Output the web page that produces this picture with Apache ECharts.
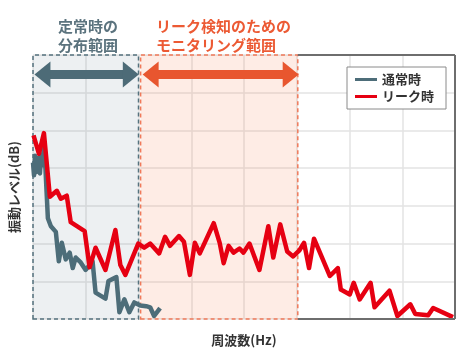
<!DOCTYPE html>
<html>
<head>
<meta charset="utf-8">
<script src="https://cdn.jsdelivr.net/npm/echarts@6/dist/echarts.min.js"></script>
<style>
  html, body { margin: 0; padding: 0; background: #fff; }
  #chart { width: 473px; height: 352px; }
</style>
</head>
<body>
<div id="chart"></div>
<script>
// frequency (arbitrary units 0-800) / level (0-70)
const normalFreq = [0, 1.9, 3.8, 5.6, 7.5, 9.4, 11.3, 13.2, 15.1, 16.9, 20.7, 22.6, 28.2, 33.9, 43.3, 48.9, 54.6, 62.1, 69.6, 75.3, 80.9, 90.4, 99.8, 112.9, 118.6, 137.4, 143.1, 158.1, 163.8, 173.2, 182.6, 192, 203.3, 214.6, 222.1, 229.6, 240.9];
const normalLevel = [41.5, 38.1, 43.3, 38.9, 42.3, 40.2, 42.8, 38.6, 43.3, 40.7, 45.4, 42.8, 26.7, 24.6, 23.1, 15.3, 20.2, 15.8, 17.6, 13.5, 16.3, 15.0, 13.0, 15.3, 7.0, 5.4, 10.1, 11.1, 1.8, 5.2, 1.8, 4.4, 3.6, 3.4, 3.1, 0.8, 2.9];

const leakFreq = [1, 11.3, 20.7, 32, 45.2, 52.7, 64, 71.5, 97.9, 107.3, 118.6, 137.4, 156.2, 165.6, 175.1, 199.5, 210.8, 222.1, 239.1, 250.4, 259.8, 276.7, 286.1, 297.4, 306.8, 316.2, 342.6, 353.9, 361.4, 370.8, 380.2, 391.5, 399, 410.4, 429.2, 446.1, 455.5, 468.7, 481.9, 493.2, 504.5, 513.9, 523.3, 532.7, 562.8, 577.9, 583.5, 600.5, 608, 619.3, 640, 647.5, 675.8, 690.8, 715.3, 724.7, 749.2, 758.6, 796.2];
const leakLevel = [48.7, 43.8, 49.3, 32.4, 34.0, 31.9, 32.7, 25.7, 23.3, 13.7, 18.9, 13.0, 23.6, 14.3, 11.7, 20.0, 18.9, 20.0, 17.4, 21.8, 19.4, 22.0, 20.5, 11.7, 20.2, 17.4, 25.4, 20.2, 14.8, 19.4, 17.6, 18.7, 17.6, 20.0, 13.0, 24.6, 16.3, 25.1, 17.9, 16.6, 18.1, 20.2, 13.5, 21.3, 11.4, 13.5, 7.8, 6.5, 9.6, 5.2, 9.6, 3.1, 7.5, 0.8, 3.9, 1.3, 1.0, 2.9, 0.5];

const seriesNames = ['通常時', 'リーク時'];
const normalRange = [0, 200];
const monitorRange = [204, 502];
const xMax = 800;
const yMax = 70;
const arrowY = 64.8;

const font = '"Noto Sans CJK JP", "Noto Sans", sans-serif';
const blue = '#4d6d79';
const red = '#e60012';

function pairs(xs, ys) {
  return xs.map((x, i) => [x, ys[i]]);
}

const chart = echarts.init(document.getElementById('chart'));

chart.setOption({
  animation: false,
  textStyle: { fontFamily: font },
  title: [
    {
      text: '定常時の\n分布範囲',
      left: 53, top: 12,
      textStyle: { fontSize: 15, fontWeight: 'bold', color: '#5b737e', lineHeight: 19, fontFamily: font }
    },
    {
      text: 'リーク検知のための\nモニタリング範囲',
      left: 151, top: 12,
      textStyle: { fontSize: 15, fontWeight: 'bold', color: '#ec5a34', lineHeight: 19, fontFamily: font }
    }
  ],
  legend: {
    data: seriesNames,
    orient: 'vertical',
    left: 347, top: 67,
    padding: [6, 12, 6, 8],
    itemGap: 4,
    itemWidth: 22,
    itemHeight: 3,
    icon: 'rect',
    backgroundColor: '#fff',
    borderColor: '#8a8a8a',
    borderWidth: 1,
    textStyle: { fontSize: 13, fontWeight: 'bold', color: '#333', fontFamily: font }
  },
  grid: { left: 30, right: 18, top: 55, bottom: 27 },
  xAxis: {
    type: 'value', min: 0, max: xMax, interval: 100,
    name: '周波数(Hz)', nameLocation: 'middle', nameGap: 15,
    nameTextStyle: { fontSize: 13, fontWeight: 'bold', color: '#333', fontFamily: font },
    axisLine: { show: false }, axisTick: { show: false }, axisLabel: { show: false },
    splitLine: { show: true, lineStyle: { color: '#e3e3e3', width: 1.5 } }
  },
  yAxis: {
    type: 'value', min: 0, max: yMax, interval: 10,
    name: '振動レベル(dB)', nameLocation: 'middle', nameGap: 12,
    nameTextStyle: { fontSize: 13, fontWeight: 'bold', color: '#333', fontFamily: font },
    axisLine: { show: false }, axisTick: { show: false }, axisLabel: { show: false },
    splitLine: { show: true, lineStyle: { color: '#e3e3e3', width: 1.5 } }
  },
  series: [
    {
      name: '_ranges',
      type: 'line',
      data: [],
      silent: true,
      markArea: {
        silent: true,
        label: { show: false },
        data: [
          [
            { xAxis: normalRange[0], yAxis: 0, itemStyle: { color: 'rgba(80,110,125,0.10)', borderColor: '#55737f', borderWidth: 1.5, borderType: [4, 3] } },
            { xAxis: normalRange[1], yAxis: yMax }
          ],
          [
            { xAxis: monitorRange[0], yAxis: 0, itemStyle: { color: 'rgba(245,120,70,0.14)', borderColor: '#f07a5a', borderWidth: 1.5, borderType: [4, 3] } },
            { xAxis: monitorRange[1], yAxis: yMax }
          ]
        ]
      },
      markLine: {
        silent: true,
        label: { show: false },
        symbol: 'none',
        data: [
          [
            { coord: [monitorRange[1], yMax], lineStyle: { color: '#6e6e6e', width: 2, type: 'solid' } },
            { coord: [xMax, yMax] }
          ],
          [
            { coord: [xMax, yMax], lineStyle: { color: '#6e6e6e', width: 2, type: 'solid' } },
            { coord: [xMax, 0] }
          ],
          [
            { coord: [monitorRange[1], 0], lineStyle: { color: '#6e6e6e', width: 2, type: 'solid' } },
            { coord: [xMax, 0] }
          ],
          [
            { coord: [17.9, arrowY], symbol: 'triangle', symbolSize: [26, 16], lineStyle: { color: '#4d6b77', width: 9, type: 'solid' } },
            { coord: [185.4, arrowY], symbol: 'triangle', symbolSize: [26, 16] }
          ],
          [
            { coord: [223, arrowY], symbol: 'triangle', symbolSize: [26, 16], lineStyle: { color: '#e8562f', width: 9, type: 'solid' } },
            { coord: [488.5, arrowY], symbol: 'triangle', symbolSize: [26, 16] }
          ]
        ]
      }
    },
    {
      name: seriesNames[0],
      type: 'line',
      data: pairs(normalFreq, normalLevel),
      showSymbol: false,
      color: blue,
      lineStyle: { color: blue, width: 4.5, join: 'round' }
    },
    {
      name: seriesNames[1],
      type: 'line',
      data: pairs(leakFreq, leakLevel),
      showSymbol: false,
      color: red,
      lineStyle: { color: red, width: 4.5, join: 'round' }
    }
  ]
});
</script>
</body>
</html>
